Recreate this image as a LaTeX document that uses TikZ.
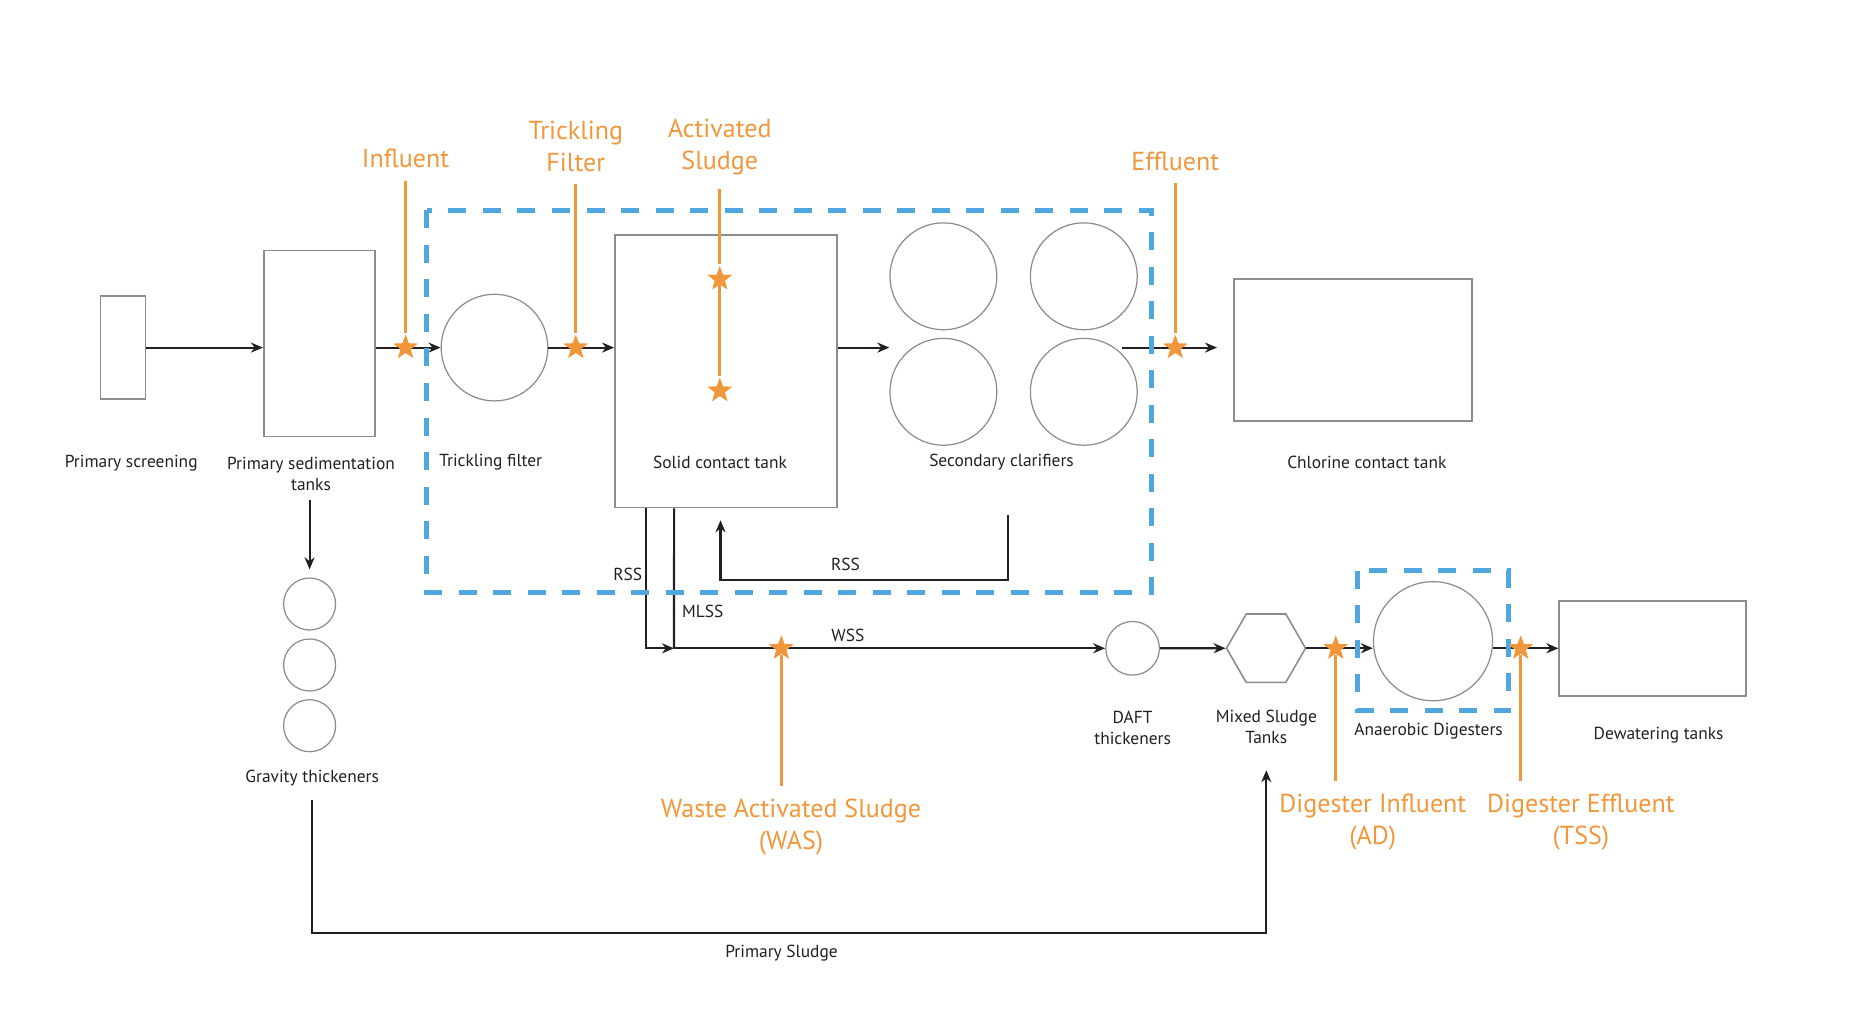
\documentclass[tikz,border=0pt]{standalone}
\usepackage{fontspec}
\setmainfont{PT Sans}
\usetikzlibrary{arrows.meta,shapes.geometric}
\definecolor{wwOrange}{RGB}{241,151,59}
\definecolor{wwBlue}{RGB}{80,166,222}
\definecolor{wwGray}{RGB}{140,140,140}
\definecolor{wwInk}{RGB}{35,31,32}
\begin{document}
\begin{tikzpicture}[x=0.01cm, y=-0.01cm,
        tank/.style={rectangle, draw=wwGray, line width=0.5pt, inner sep=0pt},
        basin/.style={circle, draw=wwGray, line width=0.35pt, inner sep=0pt},
        hexa/.style={regular polygon, regular polygon sides=6, draw=wwGray, line width=0.45pt, inner sep=0pt, minimum size=0.79cm},
        lbl/.style={font=\fontsize{4.95}{6}\selectfont, text=wwInk, align=center, inner sep=0pt},
        tag/.style={font=\fontsize{7.4}{9.1}\selectfont, text=wwOrange, align=center, inner sep=0pt, outer sep=0.13cm},
        probe/.style={wwOrange, line width=0.85pt},
        spot/.style={star, star points=5, star point ratio=2.4, fill=wwOrange, inner sep=0pt, minimum size=0.26cm},
        flow/.style={-{Stealth[length=0.12cm, width=0.1cm]}, wwInk, line width=0.6pt},
        pipe/.style={wwInk, line width=0.6pt},
        region/.style={wwBlue, line width=1.4pt, dash pattern=on 0.18cm off 0.165cm}
    ]
    \useasboundingbox (0,0) rectangle (1854,1018);
    \node[tank, minimum width=0.45cm, minimum height=1.03cm] (scr) at (123,347.6) {};
    \node[tank, minimum width=1.11cm, minimum height=1.86cm] (sed) at (319.3,343.5) {};
    \node[basin, minimum size=1.066cm] (tf) at (494.5,347.6) {};
    \node[tank, minimum width=2.22cm, minimum height=2.72cm] (sct) at (726,371.3) {};
    \node[basin, minimum size=1.068cm] (cl1) at (943.4,276.3) {};
    \node[basin, minimum size=1.068cm] (cl2) at (1083.8,276.3) {};
    \node[basin, minimum size=1.068cm] (cl3) at (943.4,391.8) {};
    \node[basin, minimum size=1.068cm] (cl4) at (1083.8,391.8) {};
    \node[tank, minimum width=2.376cm, minimum height=1.42cm] (cct) at (1353.2,350) {};
    \node[basin, minimum size=0.52cm] (gt1) at (309.6,604) {};
    \node[basin, minimum size=0.52cm] (gt2) at (309.6,665) {};
    \node[basin, minimum size=0.52cm] (gt3) at (309.6,725.7) {};
    \node[basin, minimum size=0.536cm] (daft) at (1132.6,648.3) {};
    \node[hexa] (mst) at (1266,648.2) {};
    \node[basin, minimum size=1.19cm] (ad) at (1433,641.2) {};
    \node[tank, minimum width=1.864cm, minimum height=0.953cm] (dwt) at (1652.5,648.3) {};
    \node[lbl] (lScr) at (131.2,463.5) {Primary screening};
    \node[lbl] (lSed) at (311,474.2) {Primary sedimentation\\tanks};
    \node[lbl] (lTf) at (490.7,462) {Trickling filter};
    \node[lbl] (lSct) at (720,462) {Solid contact tank};
    \node[lbl] (lSc) at (1001.5,462) {Secondary clarifiers};
    \node[lbl] (lCct) at (1366.8,462.3) {Chlorine contact tank};
    \node[lbl] (lGt) at (312.2,778) {Gravity thickeners};
    \node[lbl] (lDaft) at (1132.6,727.8) {DAFT\\thickeners};
    \node[lbl] (lMst) at (1266.3,727.2) {Mixed Sludge\\Tanks};
    \node[lbl] (lAd) at (1428.6,731.3) {Anaerobic Digesters};
    \node[lbl] (lDwt) at (1658.6,735) {Dewatering tanks};
    \node[lbl, anchor=north, inner sep=0.12cm] (lPs) at (781.5,932.7) {Primary Sludge};
    \node[lbl] (lRss) at (627.7,574) {RSS};
    \node[lbl] (lMlss) at (702.7,611) {MLSS};
    \node[lbl] (lWss) at (847.8,635) {WSS};
    \node[lbl] (lRet) at (845.5,564) {RSS};
    \coordinate (effEnd) at (1217,347.6);
    \coordinate (mj) at (674,648.3);
    \coordinate (rssTop) at (1007.6,515);
    \draw[flow] (scr.east) -- (scr.east -| sed.west);
    \draw[flow] (sed.east |- tf) -- (tf);
    \draw[flow] (tf) -- (tf -| sct.west);
    \draw[flow] (sct.east |- tf) -- (tf -| cl3.west);
    \draw[flow] (cl4.north east |- tf) -- (effEnd);
    \draw[flow, shorten <=0.08cm, shorten >=0.08cm] (gt1 |- lSed.south) -- (gt1);
    \draw[flow] ([xshift=-0.796cm]sct.south) |- (mj);
    \draw[pipe] ([xshift=-0.519cm]sct.south) -- (mj);
    \draw[flow] (rssTop) -- ++(0,65) -| ([xshift=-0.055cm, yshift=-0.12cm]sct.south);
    \draw[flow] (mj) -- (daft);
    \draw[flow] (daft) -- (mst);
    \draw[flow] (mst.east) -- (mst.east -| ad.west);
    \draw[flow] (ad.east |- dwt) -- (dwt);
    \draw[flow, shorten <=0.13cm, shorten >=0.255cm] (lGt.south) |- (lPs.north) -| (lMst.south);
    \draw[region] (426.7,210.4) rectangle (1151.6,592.7);
    \draw[region] (1357.5,570.7) rectangle (1508.6,710.7);
    \node[spot] (sInf) at (405.6,347.6) {};
    \node[spot] (sTf) at (575.8,347.6) {};
    \node[spot] (sAs1) at (719.8,279) {};
    \node[spot] (sAs2) at (719.8,390.7) {};
    \node[spot] (sEff) at (1175.3,347.6) {};
    \node[spot] (sWas) at (781.3,648.3) {};
    \node[spot] (sDi) at (1335.7,648.3) {};
    \node[spot] (sDe) at (1520.7,648.3) {};
    \node[tag] (tInf) at (405.6,158.6) {Influent};
    \node[tag] (tTf) at (575.8,146) {Trickling\\Filter};
    \node[tag] (tAs) at (719.8,147.5) {Activated\\Sludge};
    \node[tag] (tEff) at (1175.3,161) {Effluent};
    \node[tag] (tWas) at (791,827) {Waste Activated Sludge\\(WAS)};
    \node[tag] (tDi) at (1372.8,822.5) {Digester Influent\\(AD)};
    \node[tag] (tDe) at (1580.9,822) {Digester Effluent\\(TSS)};
    \draw[probe] (sInf |- tInf.south) -- (sInf);
    \draw[probe] (sTf |- tTf.south) -- (sTf);
    \draw[probe] (sAs1 |- tAs.south) -- (sAs1) -- (sAs2);
    \draw[probe] (sEff |- tEff.south) -- (sEff);
    \draw[probe] (sWas |- tWas.north) -- (sWas);
    \draw[probe] (sDi |- tDi.north) -- (sDi);
    \draw[probe] (sDe |- tDe.north) -- (sDe);
\end{tikzpicture}
\end{document}
